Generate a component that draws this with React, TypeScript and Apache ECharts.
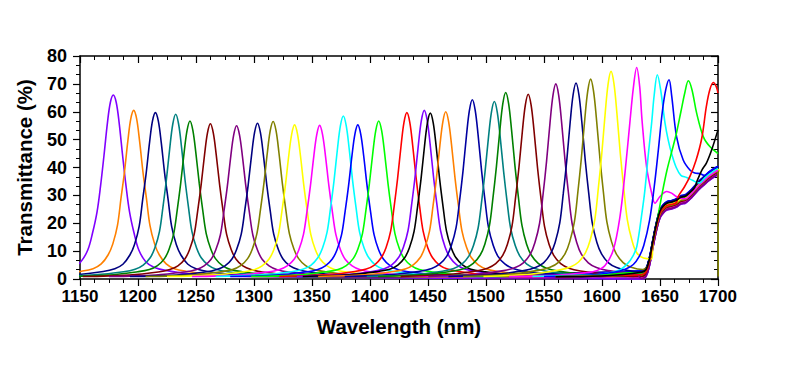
import React, { useEffect, useRef } from "react";
import * as echarts from "echarts";

// ---- axis ranges / ticks ----
const X_MIN = 1150;
const X_MAX = 1700;
const X_STEP = 50;
const Y_MIN = 0;
const Y_MAX = 80;
const Y_STEP = 10;

// ---- peaks: wavelength offsets around each peak centre (nm) ----
const WAVELENGTH_OFFSETS = [
  -110, -70, -45, -35, -28, -22, -18, -14, -11, -8, -5, -2.5, 0, 2.5, 5, 8, 11, 14, 18, 22, 28, 35, 45, 70, 110,
];

// peak centres (nm)
const peakCenters = [
  1178.7, 1196.3, 1215, 1232.5, 1244.8, 1262.4, 1285, 1303, 1316.5, 1335, 1356.6, 1377, 1389.5,
  1407.5, 1431.8, 1446.8, 1452, 1465.3, 1488.2, 1507.2, 1517, 1536.4, 1560.2, 1577.6, 1590.2, 1607.8,
];

// transmittance (%) at the offsets above, one row per peak
const peakProfiles = [
  [0.9, 1.6, 3.1, 4.2, 6.2, 10.4, 16.3, 24.1, 33.3, 44.4, 56.2, 63.4, 66.0, 63.4, 56.2, 44.4, 33.3, 24.1, 16.3, 10.4, 6.2, 4.2, 3.1, 1.6, 0.9],
  [0.9, 1.5, 2.8, 3.7, 5.4, 8.7, 12.6, 19.2, 28.8, 38.3, 49.7, 57.5, 60.5, 57.5, 49.7, 38.3, 28.8, 19.2, 12.6, 8.7, 5.4, 3.7, 2.8, 1.5, 0.9],
  [0.9, 1.5, 2.7, 3.7, 5.3, 8.6, 12.4, 18.9, 28.4, 37.8, 49.1, 56.7, 59.7, 56.7, 49.1, 37.8, 28.4, 18.9, 12.4, 8.6, 5.3, 3.7, 2.7, 1.5, 0.9],
  [0.9, 1.5, 2.6, 3.5, 5.0, 7.6, 11.1, 17.0, 25.8, 35.7, 47.4, 55.6, 59.1, 55.6, 47.4, 35.7, 25.8, 17.0, 11.1, 7.6, 5.0, 3.5, 2.6, 1.5, 0.9],
  [0.9, 1.4, 2.6, 3.4, 4.8, 7.3, 10.7, 16.3, 24.7, 34.3, 45.5, 53.3, 56.7, 53.3, 45.5, 34.3, 24.7, 16.3, 10.7, 7.3, 4.8, 3.4, 2.6, 1.4, 0.9],
  [0.9, 1.4, 2.5, 3.4, 4.7, 7.2, 10.5, 16.0, 24.3, 33.7, 44.7, 52.4, 55.7, 52.4, 44.7, 33.7, 24.3, 16.0, 10.5, 7.2, 4.7, 3.4, 2.5, 1.4, 0.9],
  [0.9, 1.4, 2.5, 3.3, 4.7, 7.1, 10.4, 15.8, 24.0, 33.2, 44.1, 51.7, 55.0, 51.7, 44.1, 33.2, 24.0, 15.8, 10.4, 7.1, 4.7, 3.3, 2.5, 1.4, 0.9],
  [0.9, 1.4, 2.5, 3.4, 4.7, 7.2, 10.6, 16.1, 24.4, 33.8, 44.8, 52.6, 55.9, 52.6, 44.8, 33.8, 24.4, 16.1, 10.6, 7.2, 4.7, 3.4, 2.5, 1.4, 0.9],
  [0.9, 1.4, 2.6, 3.4, 4.8, 7.3, 10.7, 16.3, 24.6, 34.1, 45.3, 53.2, 56.5, 53.2, 45.3, 34.1, 24.6, 16.3, 10.7, 7.3, 4.8, 3.4, 2.6, 1.4, 0.9],
  [0.9, 1.4, 2.5, 3.3, 4.7, 7.2, 10.4, 15.9, 24.1, 33.4, 44.4, 52.0, 55.3, 52.0, 44.4, 33.4, 24.1, 15.9, 10.4, 7.2, 4.7, 3.3, 2.5, 1.4, 0.9],
  [0.9, 1.4, 2.5, 3.3, 4.7, 7.1, 10.4, 15.9, 24.0, 33.3, 44.2, 51.8, 55.1, 51.8, 44.2, 33.3, 24.0, 15.9, 10.4, 7.1, 4.7, 3.3, 2.5, 1.4, 0.9],
  [0.9, 1.5, 2.6, 3.5, 4.9, 7.6, 11.0, 16.8, 25.5, 35.3, 46.9, 55.0, 58.5, 55.0, 46.9, 35.3, 25.5, 16.8, 11.0, 7.6, 4.9, 3.5, 2.6, 1.5, 0.9],
  [0.9, 1.4, 2.5, 3.3, 4.7, 7.2, 10.4, 15.9, 24.1, 33.4, 44.4, 52.0, 55.3, 52.0, 44.4, 33.4, 24.1, 15.9, 10.4, 7.2, 4.7, 3.3, 2.5, 1.4, 0.9],
  [0.9, 1.4, 2.6, 3.4, 4.8, 7.3, 10.7, 16.3, 24.7, 34.3, 45.5, 53.3, 56.7, 53.3, 45.5, 34.3, 24.7, 16.3, 10.7, 7.3, 4.8, 3.4, 2.6, 1.4, 0.9],
  [0.9, 1.5, 2.7, 3.6, 5.0, 7.7, 11.2, 17.2, 26.0, 36.1, 47.9, 56.2, 59.7, 56.2, 47.9, 36.1, 26.0, 17.2, 11.2, 7.7, 5.0, 3.6, 2.7, 1.5, 0.9],
  [0.9, 1.5, 2.7, 3.6, 5.1, 7.8, 11.4, 17.4, 26.4, 36.5, 48.5, 56.9, 60.5, 56.9, 48.5, 36.5, 26.4, 17.4, 11.4, 7.8, 5.1, 3.6, 2.7, 1.5, 0.9],
  [0.9, 1.5, 2.7, 3.5, 5.0, 7.7, 11.2, 17.1, 25.9, 35.9, 47.7, 56.0, 59.5, 56.0, 47.7, 35.9, 25.9, 17.1, 11.2, 7.7, 5.0, 3.5, 2.7, 1.5, 0.9],
  [0.9, 1.5, 2.7, 3.6, 5.1, 7.7, 11.3, 17.2, 26.1, 36.2, 48.1, 56.4, 60.0, 56.4, 48.1, 36.2, 26.1, 17.2, 11.3, 7.7, 5.1, 3.6, 2.7, 1.5, 0.9],
  [0.9, 1.6, 2.8, 3.8, 5.4, 8.2, 12.1, 18.4, 28.0, 38.8, 51.6, 60.5, 64.3, 60.5, 51.6, 38.8, 28.0, 18.4, 12.1, 8.2, 5.4, 3.8, 2.8, 1.6, 0.9],
  [0.9, 1.5, 2.8, 3.8, 5.3, 8.2, 12.0, 18.3, 27.7, 38.5, 51.1, 59.9, 63.7, 59.9, 51.1, 38.5, 27.7, 18.3, 12.0, 8.2, 5.3, 3.8, 2.8, 1.5, 0.9],
  [0.9, 1.6, 2.9, 3.9, 5.6, 8.6, 12.5, 19.2, 29.1, 40.4, 53.6, 62.9, 66.9, 62.9, 53.6, 40.4, 29.1, 19.2, 12.5, 8.6, 5.6, 3.9, 2.9, 1.6, 0.9],
  [0.9, 1.6, 2.9, 3.9, 5.5, 8.5, 12.4, 19.0, 28.9, 40.0, 53.2, 62.4, 66.3, 62.4, 53.2, 40.0, 28.9, 19.0, 12.4, 8.5, 5.5, 3.9, 2.9, 1.6, 0.9],
  [0.9, 1.6, 3.0, 4.1, 5.8, 8.9, 13.1, 20.0, 30.4, 42.2, 56.1, 65.8, 70.0, 65.8, 56.1, 42.2, 30.4, 20.0, 13.1, 8.9, 5.8, 4.1, 3.0, 1.6, 0.9],
  [0.9, 1.6, 3.0, 4.1, 5.8, 9.0, 13.1, 20.1, 30.6, 42.4, 56.4, 66.1, 70.3, 66.1, 56.4, 42.4, 30.6, 20.1, 13.1, 9.0, 5.8, 4.1, 3.0, 1.6, 0.9],
  [0.9, 1.7, 3.1, 4.2, 5.9, 9.1, 13.4, 20.5, 31.2, 43.3, 57.5, 67.4, 71.7, 67.4, 57.5, 43.3, 31.2, 20.5, 13.4, 9.1, 5.9, 4.2, 3.4, 1.7, 0.9],
  [0.9, 1.7, 3.2, 4.3, 6.1, 9.5, 13.9, 21.3, 32.4, 44.9, 59.7, 70.1, 74.5, 70.1, 59.7, 44.9, 32.4, 21.3, 13.9, 9.5, 7.5, 7.2, 3.2, 1.7, 0.9],
];

// ---- curves near the absorption edge, read point by point [nm, %] ----
const magentaEdgeCurve = [
  [1520, 0.9], [1560, 1.3], [1585, 2.2], [1595.4, 3.0], [1602.6, 4.8], [1609.7, 10.4], [1615.5, 22.4],
  [1619.8, 38], [1624, 56], [1627, 68.5], [1629.9, 75.9], [1632.5, 69], [1634.5, 57], [1638.4, 40.3],
  [1642.8, 30.8], [1645.7, 27.2], [1650, 29.6], [1655.8, 31.4], [1660, 30.8], [1664, 29.6], [1668, 28.9],
];
const cyanEdgeCurve = [
  [1540, 0.9], [1580, 1.3], [1600, 1.8], [1615, 3.2], [1622, 5.5], [1627, 8.5], [1630, 11.6], [1634, 22.4],
  [1637, 32], [1640, 45], [1642.8, 56], [1645, 66], [1647.7, 73.3], [1650.5, 68], [1654.3, 56], [1657, 50],
  [1660, 45], [1664, 40], [1668, 37.2], [1673, 36.4], [1678, 35.4], [1682, 34.6],
];
const blueEdgeCurve = [
  [1550, 0.9], [1590, 1.4], [1610, 2.4], [1620, 3.5], [1627, 5.2], [1632, 8], [1636, 12], [1641, 21],
  [1645, 33], [1648.5, 46], [1652, 60], [1655, 68], [1657.8, 71.5], [1660, 66], [1664.3, 51], [1670, 42.7],
  [1676, 39], [1680, 38], [1684.5, 37.8], [1688, 37.2],
];
const limeEdgeCurve = [
  [1560, 0.9], [1600, 1.3], [1625, 2.2], [1648, 22], [1652, 31], [1656, 39], [1660, 45.5], [1664, 52],
  [1668, 60], [1671.5, 67], [1674.4, 71.1], [1677.5, 68], [1681.6, 59.5], [1687.4, 51], [1693, 47.5], [1700, 45],
];
const redEdgeCurve = [
  [1560, 0.8], [1600, 1.1], [1666, 29.8], [1671, 33], [1676, 37], [1681, 42.5], [1686, 50.5], [1690, 62],
  [1693, 68], [1696, 70.5], [1698.5, 69], [1700, 66.7],
];
const blackEdgeCurve = [
  [1560, 0.8], [1600, 1.1], [1682, 35.2], [1686, 39], [1690, 41.6], [1694.5, 46.3], [1700, 53.5],
];
const edgeCurves = [magentaEdgeCurve, cyanEdgeCurve, blueEdgeCurve, limeEdgeCurve, redEdgeCurve, blackEdgeCurve];

// ---- common absorption edge that all spectra share beyond ~1635 nm ----
const edgeWavelengths = [1634, 1638, 1641, 1644, 1647, 1650, 1653, 1656, 1660, 1664, 1668, 1672, 1676, 1680, 1684, 1688, 1692, 1696, 1700];
const edgeValues = [1.5, 2.5, 6.5, 13, 19, 23.5, 25.3, 26.3, 26.7, 27.3, 28.4, 28.8, 30.2, 32, 33.8, 35.3, 36.8, 38, 39];

// per-curve: offset of each spectrum inside the thick edge band, and where it follows the edge
const edgeShift = [
  -1.5, -0.4, 1.2, 0.3, 0.0, -0.6, -1.2, 1.3, -0.3, 0.2, -0.8, 0.6, 1.5, 0.4, -0.2, -1.6,
  0.9, -0.3, 1.3, 0.4, 0.1, -0.6, -1.4, 1.0, -0.2, 0.3, 0.0, 0.7, 1.5, 0.4, 0.1, 0.9,
];
const edgeFrom = [
  1634, 1634, 1634, 1634, 1634, 1634, 1634, 1634, 1634, 1634, 1634, 1634, 1634, 1634, 1634, 1634,
  1634, 1634, 1634, 1634, 1634, 1634, 1634, 1634, 1641, 1644, 1672, 1684, 1692, 1634, 1634, 1634,
];
const edgeTo = [
  1700, 1700, 1700, 1700, 1700, 1700, 1700, 1700, 1700, 1700, 1700, 1700, 1700, 1700, 1700, 1700,
  1700, 1700, 1700, 1700, 1700, 1700, 1700, 1700, 1700, 1700, 1700, 1700, 1700, 1644, 1664, 1680,
];

const curveColors = [
  "#8000ff", "#ff8000", "#000080", "#008080", "#008000", "#800000", "#800080", "#000080",
  "#808000", "#ffff00", "#ff00ff", "#00ffff", "#0000ff", "#00ff00", "#ff0000", "#8000ff",
  "#000000", "#ff8000", "#0000a0", "#008080", "#008000", "#800000", "#800080", "#000080",
  "#808000", "#ffff00", "#ff00ff", "#00ffff", "#0000ff", "#00ff00", "#ff0000", "#000000",
];

const FONT = "'Liberation Sans', Arial, Helvetica, sans-serif";

function buildCurve(i: number): number[][] {
  const own: number[][] =
    i < peakCenters.length
      ? WAVELENGTH_OFFSETS.map((d, k) => [peakCenters[i] + d, peakProfiles[i][k]])
      : edgeCurves[i - peakCenters.length];
  const from = edgeFrom[i];
  const to = edgeTo[i];
  const before = own.filter((p) => p[0] < from);
  const band = edgeWavelengths
    .map((x, k) => [x, edgeValues[k] + edgeShift[i]])
    .filter((p) => p[0] >= from && p[0] <= to);
  const after = own.filter((p) => p[0] > to);
  return [...before, ...band, ...after];
}

export default function App() {
  const ref = useRef<HTMLDivElement>(null);

  useEffect(() => {
    if (!ref.current) return;
    const chart = echarts.init(ref.current, undefined, { renderer: "svg" });

    const textBase = {
      fontFamily: FONT,
      fontWeight: "bold" as const,
      color: "#000",
    };
    const lineStyle = { color: "#000", width: 1.5 };
    const plain = (v: number) => String(v);

    const series = curveColors.map((color, i) => ({
      type: "line" as const,
      data: buildCurve(i),
      xAxisIndex: 0,
      yAxisIndex: 0,
      showSymbol: false,
      symbol: "none",
      smooth: 0.35,
      clip: true,
      lineStyle: { color, width: 1.6 },
      itemStyle: { color },
      z: 2,
    }));

    chart.setOption({
      animation: false,
      backgroundColor: "#fff",
      grid: { left: 80, right: 82, top: 56, bottom: 91, containLabel: false },
      xAxis: [
        {
          type: "value",
          position: "bottom",
          min: X_MIN,
          max: X_MAX,
          interval: X_STEP,
          axisLine: { show: true, onZero: false, lineStyle },
          axisTick: { show: true, inside: false, length: 7, lineStyle: { color: "#000", width: 1.2 } },
          minorTick: { show: true, splitNumber: 4, length: 4, lineStyle: { color: "#000", width: 1 } },
          splitLine: { show: false },
          axisLabel: { ...textBase, fontSize: 17, margin: 9, formatter: plain },
          name: "Wavelength (nm)",
          nameLocation: "middle",
          nameGap: 37,
          nameTextStyle: { ...textBase, fontSize: 20.5 },
        },
        {
          type: "value",
          position: "top",
          min: X_MIN,
          max: X_MAX,
          interval: X_STEP,
          axisLine: { show: true, onZero: false, lineStyle },
          axisTick: { show: true, inside: true, length: 7, lineStyle: { color: "#000", width: 1.2 } },
          minorTick: { show: true, splitNumber: 4, length: 4, lineStyle: { color: "#000", width: 1 } },
          splitLine: { show: false },
          axisLabel: { show: false },
        },
      ],
      yAxis: [
        {
          type: "value",
          position: "left",
          min: Y_MIN,
          max: Y_MAX,
          interval: Y_STEP,
          axisLine: { show: true, onZero: false, lineStyle },
          axisTick: { show: true, inside: false, length: 7, lineStyle: { color: "#000", width: 1.2 } },
          minorTick: { show: true, splitNumber: 3, length: 4, lineStyle: { color: "#000", width: 1 } },
          splitLine: { show: false },
          axisLabel: { ...textBase, fontSize: 18, margin: 13, formatter: plain },
          name: "Transmittance (%)",
          nameLocation: "middle",
          nameGap: 45,
          nameTextStyle: { ...textBase, fontSize: 20.5 },
        },
        {
          type: "value",
          position: "right",
          min: Y_MIN,
          max: Y_MAX,
          interval: Y_STEP,
          axisLine: { show: true, onZero: false, lineStyle },
          axisTick: { show: true, inside: true, length: 7, lineStyle: { color: "#000", width: 1.2 } },
          minorTick: { show: true, splitNumber: 3, length: 4, lineStyle: { color: "#000", width: 1 } },
          splitLine: { show: false },
          axisLabel: { show: false },
        },
      ],
      series,
    });

    return () => chart.dispose();
  }, []);

  return (
    <div
      ref={ref}
      style={{ position: "fixed", left: 0, top: 0, width: 800, height: 370, background: "#fff" }}
    />
  );
}
